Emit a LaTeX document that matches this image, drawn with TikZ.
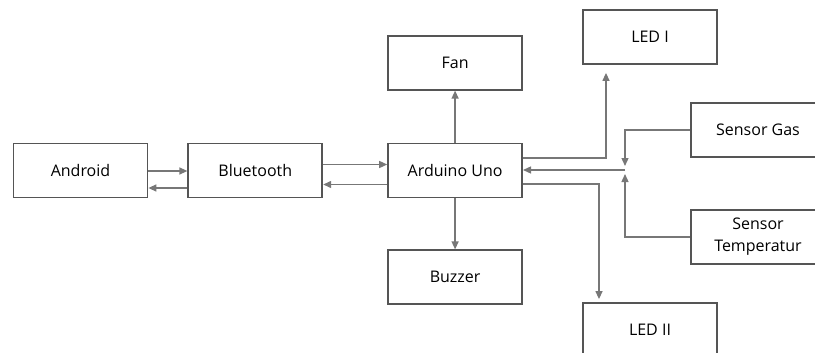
\documentclass[tikz,border=0pt]{standalone}
\usepackage{fontspec}
\setmainfont{Open Sans}
\usetikzlibrary{positioning, arrows.meta, calc}
\definecolor{boxline}{HTML}{555555}
\definecolor{arrline}{HTML}{777777}

\begin{document}
\begin{tikzpicture}[x=1pt, y=-1pt, font=\fontsize{16}{19}\selectfont, >={Triangle[length=8pt, width=7pt]},
  blok/.style={draw=boxline, line width=1.8pt, fill=white, align=center, text=black,
    minimum width=134pt, minimum height=54pt, inner sep=2pt},
  arr/.style={->, draw=arrline, line width=1.3pt, color=arrline}]
  \useasboundingbox (0,0) rectangle (815,353);
  \node[blok] (android) at (80.5,170.5) {Android};
  \node[blok, right=39pt of android] (bt) {Bluetooth};
  \node[blok, right=64pt of bt] (arduino) {Arduino Uno};
  \node[blok, above=52pt of arduino] (fan) {Fan};
  \node[blok, below=51pt of arduino] (buzzer) {Buzzer};
  \node[blok] (led1) at (650,37) {LED I};
  \node[blok] (gas) at (758,130) {Sensor Gas};
  \node[blok, text width=120pt, font=\fontsize{16}{22}\selectfont] (temp) at (758,237) {Sensor\\Temperatur};
  \node[blok] (led2) at (650,330) {LED II};
  \coordinate (jn) at (625,170);
  % android <-> bluetooth
  \draw[arr] ($(android.east)+(0,0.5)$) -- ($(bt.west)+(0,0.5)$);
  \draw[arr] ($(bt.west)+(0,17.5)$) -- ($(android.east)+(0,17.5)$);
  % bluetooth <-> arduino
  \draw[arr] ($(bt.east)+(0,-6)$) -- ($(arduino.west)+(0,-6)$);
  \draw[arr] ($(arduino.west)+(0,14)$) -- ($(bt.east)+(0,14)$);
  % outputs
  \draw[arr] (arduino) -- (fan);
  \draw[arr] (arduino) -- (buzzer);
  \draw[arr, shorten >=8pt] ($(arduino.east)+(0,-12.5)$) -| ([xshift=-44pt]led1.south);
  \draw[arr, shorten >=3pt] ($(arduino.east)+(0,13.5)$) -| ([xshift=-51pt]led2.north);
  % sensors
  \draw[arr, shorten >=4pt] (gas.west) -| (jn);
  \draw[arr, shorten >=4pt] (temp.west) -| (jn);
  \draw[arr] (jn) -- (arduino.east |- jn);
\end{tikzpicture}
\end{document}
